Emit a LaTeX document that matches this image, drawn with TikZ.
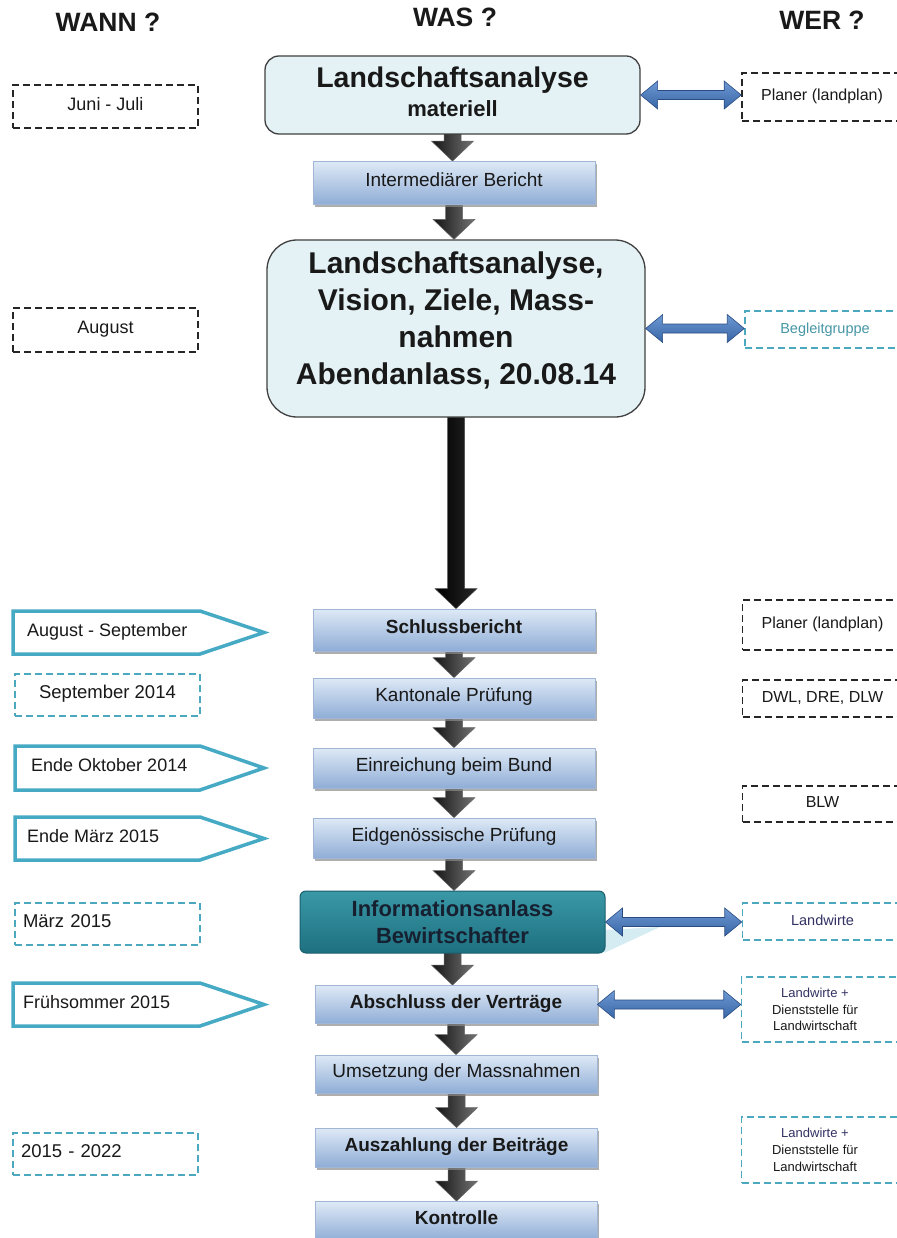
\documentclass[tikz,border=0pt]{standalone}
\usepackage{fontspec}
\setmainfont{Liberation Sans}
\usetikzlibrary{calc,shadows,backgrounds}
\definecolor{tealc}{RGB}{75,168,190}
\definecolor{pentc}{RGB}{70,170,196}
\definecolor{tealtxt}{RGB}{70,150,165}
\definecolor{bigfill}{RGB}{228,242,245}
\definecolor{boxtop}{RGB}{222,233,246}
\definecolor{boxbot}{RGB}{143,173,214}
\definecolor{boxdraw}{RGB}{160,182,212}
\definecolor{infotop}{RGB}{58,152,166}
\definecolor{infobot}{RGB}{30,112,128}
\definecolor{infodraw}{RGB}{25,95,110}
\definecolor{infotxt}{RGB}{22,32,48}
\definecolor{arrtop}{RGB}{110,155,212}
\definecolor{arrbot}{RGB}{55,100,165}
\definecolor{arrdraw}{RGB}{40,75,130}
\definecolor{navy}{RGB}{50,50,100}
\definecolor{txt}{RGB}{25,25,25}
\definecolor{reflect}{RGB}{212,236,242}

\tikzset{
  hdr/.style={font=\fontsize{26.5}{30}\selectfont\bfseries, text=txt, inner sep=0pt, text height=0.72em, text depth=0pt},
  dashline/.style={line width=1.6pt, dash pattern=on 7pt off 4pt},
  wannblack/.style={dashline, draw=black!85, minimum width=185pt, font=\fontsize{18}{21}\selectfont, text=txt, text height=0.72em, text depth=0pt},
  wannteal/.style={dashline, draw=tealc, minimum width=185pt, font=\fontsize{18.5}{21}\selectfont, text=txt, text height=0.72em, text depth=0pt},
  wanntealleft/.style={wannteal, text width=169pt, inner xsep=8pt, align=left},
  pent/.style={draw=pentc, line width=3.5pt, fill=white, line join=miter},
  pentt/.style={font=\fontsize{18}{21}\selectfont, text=txt, anchor=west, inner sep=0pt, text height=0.72em, text depth=0pt},
  werblack/.style={dashline, draw=black!85, minimum width=160pt, font=\fontsize{16}{19}\selectfont, text=txt, text height=0.72em, text depth=0pt},
  werteal/.style={dashline, line width=1.5pt, draw=tealc, minimum width=160pt, font=\fontsize{14.5}{17}\selectfont, text height=0.72em, text depth=0pt},
  wermulti/.style={font=\fontsize{13}{16.7}\selectfont, text=txt, align=center, inner sep=0pt},
  proc/.style={rectangle, draw=boxdraw, line width=0.8pt, top color=boxtop, bottom color=boxbot,
    minimum width=282pt, font=\fontsize{19}{22}\selectfont, text=txt, text height=0.72em, text depth=0pt,
    drop shadow={shadow xshift=1.5pt, shadow yshift=-2.5pt, fill=black!45, opacity=0.7}},
  bigbox/.style={rectangle, draw=black!75, line width=1.3pt, fill=bigfill},
  info/.style={rectangle, rounded corners=6pt, draw=infodraw, line width=1pt, top color=infotop, bottom color=infobot,
    minimum width=305pt, minimum height=62pt, font=\fontsize{22}{27}\selectfont\bfseries, text=infotxt, align=center},
  dnshade/.style={left color=black!92, right color=black!55, draw=black!60, line width=0.5pt},
  dnblack/.style={left color=black, right color=black!85, draw=black!70, line width=0.5pt},
}

\newcommand\dnarrow[3][dnshade]{%
  \path[#1]
    let \p1=(#2.south), \p2=(#3.north) in
    (\x1-8.5pt,\y1+3pt) -- (\x1+8.5pt,\y1+3pt) -- (\x1+8.5pt,\y2+20pt) -- (\x1+21pt,\y2+20pt)
    -- (\x1,\y2) -- (\x1-21pt,\y2+20pt) -- (\x1-8.5pt,\y2+20pt) -- cycle;}

\newcommand\dblarrow[2]{%
  \path[top color=arrtop, bottom color=arrbot, draw=arrdraw, line width=0.6pt]
    let \p1=(#1), \p2=(#2) in
    (\x1,\y1) -- (\x1+17pt,\y1+14pt) -- (\x1+17pt,\y1+4.5pt) -- (\x2-17pt,\y1+4.5pt) -- (\x2-17pt,\y1+14pt)
    -- (\x2,\y1) -- (\x2-17pt,\y1-14pt) -- (\x2-17pt,\y1-4.5pt) -- (\x1+17pt,\y1-4.5pt) -- (\x1+17pt,\y1-14pt) -- cycle;}

\begin{document}
\begin{tikzpicture}[x=1pt,y=-1pt]
\useasboundingbox (0,0) rectangle (896,1238);

% headers
\node[hdr] (hwann) at (108,28) {WANN ?};
\node[hdr] (hwas) at (455,23) {WAS ?};
\node[hdr] (hwer) at (822,26) {WER ?};

% WANN column
\node[wannblack, minimum height=43pt] (w1) at (105.5,106.5) {Juni - Juli};
\node[wannblack, minimum height=44pt] (w2) at (105.5,330) {August};

\draw[pent] (13,611) -- (200,611) -- (264,632.5) -- (200,654) -- (13,654) -- cycle;
\node[pentt] (p1) at (27,632.5) {August - September};
\node[wannteal, minimum height=42pt] (t1) at (107.5,695) {September 2014};
\draw[pent] (15,746) -- (200,746) -- (264,768) -- (200,790) -- (15,790) -- cycle;
\node[pentt] (p2) at (31,768) {Ende Oktober 2014};
\draw[pent] (15,817) -- (200,817) -- (264,838.5) -- (200,860) -- (15,860) -- cycle;
\node[pentt] (p3) at (27,838.5) {Ende März 2015};
\node[wanntealleft, minimum height=42pt] (t2) at (107.5,924) {März 2015};
\draw[pent] (13,983) -- (200,983) -- (264,1004.5) -- (200,1026) -- (13,1026) -- cycle;
\node[pentt] (p4) at (23,1004.5) {Frühsommer 2015};
\node[wanntealleft, minimum height=42pt] (t3) at (105.5,1154) {2015 - 2022};

% WAS column
\node[bigbox, rounded corners=14pt, minimum width=375pt, minimum height=78pt] (b1) at (452.5,95) {};
\node[font=\fontsize{28.5}{29.3}\selectfont\bfseries, text=txt, align=center, inner sep=0pt] (b1t) at (452.5,92)
  {Landschaftsanalyse\\{\fontsize{22}{29.3}\selectfont materiell}};
\node[proc, minimum height=43pt] (b2) at (454,183) {Intermediärer Bericht};
\node[bigbox, rounded corners=30pt, minimum width=378pt, minimum height=177pt] (b3) at (456,328.5) {};
\node[font=\fontsize{30}{37.3}\selectfont\bfseries, text=txt, align=center, inner sep=0pt] (b3t) at (456,320.5)
  {Landschaftsanalyse,\\Vision, Ziele, Mass-\\nahmen\\Abendanlass, 20.08.14};
\node[proc, minimum height=42pt, font=\fontsize{19}{22}\selectfont\bfseries] (b4) at (454,630) {Schlussbericht};
\node[proc, minimum height=40pt] (b5) at (454,698) {Kantonale Prüfung};
\node[proc, minimum height=40pt] (b6) at (454,768) {Einreichung beim Bund};
\node[proc, minimum height=40pt] (b7) at (454,838) {Eidgenössische Prüfung};
\fill[reflect] (604,953) -- (604,930) -- (660,927) -- cycle;
\node[info] (b8) at (452.5,922) {Informationsanlass\\Bewirtschafter};
\node[proc, minimum height=38pt, font=\fontsize{19}{22}\selectfont\bfseries] (b9) at (456,1004.5) {Abschluss der Verträge};
\node[proc, minimum height=38pt] (b10) at (456.5,1074) {Umsetzung der Massnahmen};
\node[proc, minimum height=39pt, font=\fontsize{19}{22}\selectfont\bfseries] (b11) at (456.5,1147.5) {Auszahlung der Beiträge};
\node[proc, minimum height=39pt, font=\fontsize{19}{22}\selectfont\bfseries] (b12) at (456.5,1221) {Kontrolle};

% WER column
\node[werblack, minimum height=48pt] (r1) at (822,97) {Planer (landplan)};
\node[werteal, minimum height=37pt, text=tealtxt] (r2) at (825,329.5) {Begleitgruppe};
\node[werblack, minimum height=50pt] (r3) at (822.5,625) {Planer (landplan)};
\node[werblack, minimum height=37pt] (r4) at (822.5,698.5) {DWL, DRE, DLW};
\node[werblack, minimum height=36pt] (r5) at (822.5,804) {BLW};
\node[werteal, minimum height=37pt, text=navy] (r6) at (822.5,921.5) {Landwirte};
\node[werteal, minimum height=65pt] (r7) at (821.5,1009.5) {};
\node[wermulti] (r7t) at (815,1009.5) {{\color{navy}Landwirte +}\\Dienststelle für\\Landwirtschaft};
\node[werteal, minimum height=66pt] (r8) at (821.5,1150) {};
\node[wermulti] (r8t) at (815,1150) {{\color{navy}Landwirte +}\\Dienststelle für\\Landwirtschaft};

% connectors
\begin{scope}[on background layer]
  \fill[white] (0,0) rectangle (896,1238);
  \dnarrow{b1}{b2}
  \dnarrow{b2}{b3}
  \dnarrow[dnblack]{b3}{b4}
  \dnarrow{b4}{b5}
  \dnarrow{b5}{b6}
  \dnarrow{b6}{b7}
  \dnarrow{b7}{b8}
  \dnarrow{b8}{b9}
  \dnarrow{b9}{b10}
  \dnarrow{b10}{b11}
  \dnarrow{b11}{b12}
\end{scope}
\dblarrow{b1.east}{b1.east -| r1.west}
\dblarrow{b3.east}{b3.east -| r2.west}
\dblarrow{b8.east}{b8.east -| r6.west}
\dblarrow{b9.east}{b9.east -| r7.west}
\end{tikzpicture}
\end{document}
